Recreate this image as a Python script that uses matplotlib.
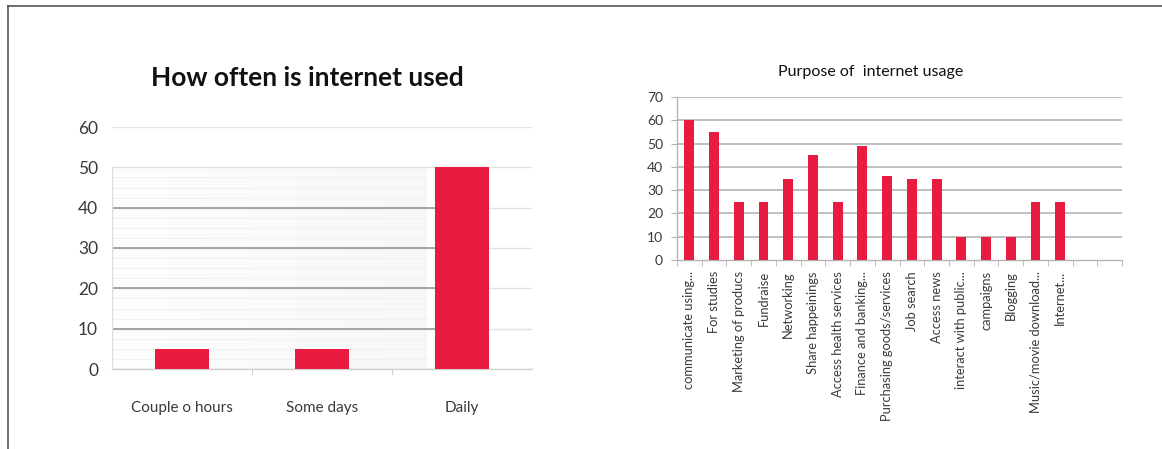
import numpy as np
import matplotlib
matplotlib.use("Agg")
import matplotlib.pyplot as plt
from matplotlib.lines import Line2D

# --- data ---------------------------------------------------------------
freq_categories = ["Couple o hours", "Some days", "Daily"]
freq_values = [5, 5, 50]

purpose_categories = [
    "communicate using...", "For studies", "Marketing of producs", "Fundraise",
    "Networking", "Share happeinings", "Access health services",
    "Finance and banking...", "Purchasing goods/services", "Job search",
    "Access news", "interact with public...", "campaigns", "Blogging",
    "Music/movie download...", "Internet...", "", "",
]
purpose_values = [60, 55, 25, 25, 35, 45, 25, 49, 36, 35, 35, 10, 10, 10, 25, 25]

# --- fonts --------------------------------------------------------------
FONT = ["Lato", "DejaVu Sans"]
plt.rcParams["font.family"] = FONT

BAR = "#e81b40"
TXT = "#3a3a3a"

fig = plt.figure(figsize=(11.62, 4.49), dpi=100)

# frame lines on the top and left of the page
fig.add_artist(Line2D([7.5 / 1162, 1], [1 - 6 / 449, 1 - 6 / 449], color="#555555", lw=1.2,
                      transform=fig.transFigure))
fig.add_artist(Line2D([7.5 / 1162, 7.5 / 1162], [0, 1 - 6 / 449], color="#555555", lw=1.2,
                      transform=fig.transFigure))

# --- left chart: frequency of use --------------------------------------
ax1 = fig.add_axes([112 / 1162, 1 - 369 / 449, 420 / 1162, 242 / 449])
n1 = len(freq_categories)
x1 = np.arange(n1)
ax1.set_xlim(-0.5, n1 - 0.5)
ax1.set_ylim(0, 60)

# soft shaded back wall
grad = np.linspace(0, 1, 256).reshape(1, -1)
ax1.imshow(grad, extent=(-0.5, 1.75, 0, 50), aspect="auto", cmap="Greys",
           vmin=-0.2, vmax=18, zorder=0, interpolation="bilinear")
for y in np.arange(2.5, 50, 2.5):
    ax1.plot([-0.5, 1.75], [y, y], color="#f1f1f1", lw=0.8, zorder=0.5)

# light gridlines across the full width
for y in range(0, 61, 10):
    ax1.axhline(y, color="#e2e2e2", lw=1.0, zorder=1)
# darker gridlines on the wall
for y in range(10, 50, 10):
    ax1.plot([-0.5, 1.8], [y, y], color="#9e9e9e", lw=1.3, zorder=1.2)
ax1.plot([-0.5, -0.5], [0, 50], color="#dcdcdc", lw=1.0, zorder=1.2)

ax1.bar(x1, freq_values, width=0.39, color=BAR, zorder=3)

for s in ax1.spines.values():
    s.set_visible(False)
ax1.plot([-0.5, n1 - 0.5], [0, 0], color="#d0d0d0", lw=1.0, zorder=2, clip_on=False)
for b in np.arange(0.5, n1 - 0.5, 1.0):
    ax1.plot([b, b], [0, -1.3], color="#d0d0d0", lw=0.8, clip_on=False)

ax1.set_yticks(range(0, 61, 10))
ax1.set_xticks(x1)
ax1.set_xticklabels(freq_categories)
ax1.tick_params(axis="y", length=0, pad=10, labelsize=12.5, labelcolor=TXT)
ax1.tick_params(axis="x", length=0, pad=23, labelsize=11, labelcolor=TXT)
ax1.set_title("How often is internet used", fontsize=19, fontweight="bold",
              color="#111111", va="center", pad=0, x=0.464, y=1.0 + 49 / 242)

# --- right chart: purpose of use ---------------------------------------
ax2 = fig.add_axes([677 / 1162, 1 - 260 / 449, 445 / 1162, 163 / 449])
n2 = len(purpose_categories)
x2 = np.arange(len(purpose_values))
ax2.set_xlim(-0.5, n2 - 0.5)
ax2.set_ylim(0, 70)

for y in range(10, 71, 10):
    ax2.axhline(y, color="#b4b4b4", lw=1.2, zorder=1)
ax2.bar(x2, purpose_values, width=0.4, color=BAR, zorder=3)

for k in ("top", "right"):
    ax2.spines[k].set_visible(False)
for k in ("left", "bottom"):
    ax2.spines[k].set_color("#b4b4b4")
    ax2.spines[k].set_linewidth(1.0)

ax2.set_yticks(range(0, 71, 10))
ax2.set_xticks(np.arange(-0.5, n2, 1.0), minor=True)
ax2.set_xticks(np.arange(n2))
ax2.set_xticklabels(purpose_categories, rotation=90, ha="center", va="top")
ax2.tick_params(axis="x", which="major", length=0, pad=8, labelsize=9.3, labelcolor=TXT)
ax2.tick_params(axis="x", which="minor", length=4, color="#b4b4b4", direction="out")
ax2.tick_params(axis="y", length=4, color="#b4b4b4", pad=6, labelsize=10, labelcolor=TXT)
ax2.set_title("Purpose of  internet usage", fontsize=11.5, color="#111111",
              pad=0, x=0.435, y=1.0 + 25 / 163, va="center")

fig.savefig("out.png", dpi=100, facecolor="white")
